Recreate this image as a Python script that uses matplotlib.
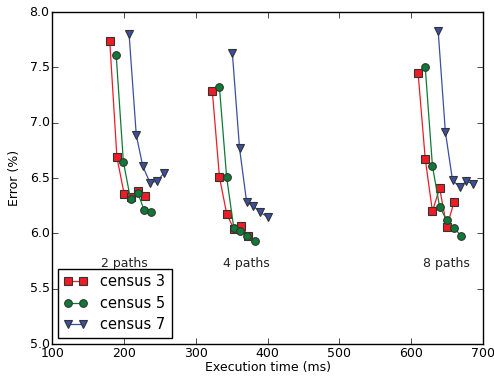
import matplotlib
matplotlib.use('Agg')
import matplotlib.pyplot as plt

# census 3 / 5 / 7 -- three groups each (2, 4, 8 paths)
c3_x = [180, 190, 200, 210, 219, 229,
        323, 333, 343, 353, 363, 373,
        610, 620, 630, 640, 650, 660]
c3_y = [7.74, 6.69, 6.36, 6.33, 6.38, 6.34,
        7.29, 6.51, 6.18, 6.04, 6.07, 5.98,
        7.45, 6.67, 6.20, 6.41, 6.06, 6.28]
c5_x = [189, 199, 209, 219, 228, 238,
        333, 343, 353, 362, 372, 382,
        620, 630, 640, 650, 660, 670]
c5_y = [7.61, 6.65, 6.31, 6.37, 6.21, 6.19,
        7.32, 6.51, 6.05, 6.02, 5.98, 5.93,
        7.50, 6.61, 6.24, 6.12, 6.05, 5.98]
c7_x = [207, 217, 226, 236, 246, 256,
        351, 361, 371, 380, 390, 400,
        638, 648, 658, 668, 677, 687]
c7_y = [7.80, 6.89, 6.61, 6.46, 6.47, 6.55,
        7.63, 6.77, 6.28, 6.25, 6.19, 6.15,
        7.83, 6.92, 6.48, 6.42, 6.47, 6.45]

group_labels = ['2 paths', '4 paths', '8 paths']
group_label_x = [200, 370, 650]
group_label_y = 5.73

plt.style.use('classic')
fig = plt.figure(figsize=(4.94, 3.79), dpi=100, facecolor='white')
ax = fig.add_axes([0.106, 0.092, 0.871, 0.876])


def plot_groups(x, y, style, color, label):
    # split into the three path groups so they are not joined
    for g in range(3):
        xs = x[g * 6:(g + 1) * 6]
        ys = y[g * 6:(g + 1) * 6]
        ax.plot(xs, ys, style, color=color, mfc=color, mec='#333333',
                ms=5.5, mew=0.8, lw=0.9, label=label if g == 0 else None)


plot_groups(c3_x, c3_y, '-s', '#ee1c25', 'census 3')
plot_groups(c5_x, c5_y, '-o', '#0f7a35', 'census 5')
plot_groups(c7_x, c7_y, '-v', '#3a4fa0', 'census 7')

for t, x in zip(group_labels, group_label_x):
    ax.text(x, group_label_y, t, ha='center', va='center', fontsize=9, color='#222222')

ax.set_xlim(100, 700)
ax.set_ylim(5.0, 8.0)
ax.set_xticks(range(100, 701, 100))
ax.set_yticks([5.0, 5.5, 6.0, 6.5, 7.0, 7.5, 8.0])
ax.tick_params(labelsize=9, pad=2)
ax.set_xlabel('Execution time (ms)', fontsize=9, labelpad=1)
ax.set_ylabel('Error (%)', fontsize=9, labelpad=6)
ax.legend(loc='lower left', numpoints=2, fontsize=10.5, borderaxespad=0.4,
          handlelength=1.6, handletextpad=0.9, labelspacing=0.45,
          borderpad=0.4, fancybox=False)

plt.savefig('out.png', dpi=100, facecolor='white')
